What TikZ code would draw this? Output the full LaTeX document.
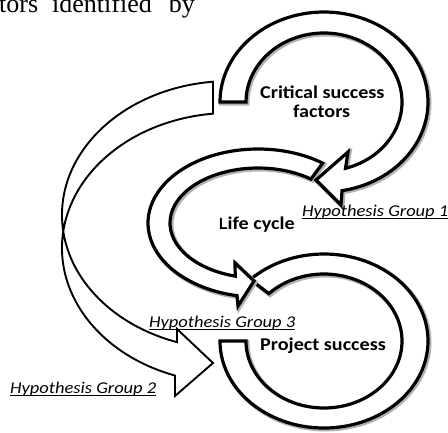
\documentclass[tikz,border=0pt]{standalone}
\usepackage{fontspec}
\setmainfont{Carlito}
\newfontfamily\labelfont[FakeStretch=1.12]{Carlito}
\newfontfamily\capLfont[FakeStretch=0.86]{Liberation Sans}
\newfontfamily\serifface{Liberation Serif}
\usetikzlibrary{calc}

% underline placed just below the baseline, crossing descenders
\newcommand\wordul[1]{\setbox0\hbox{#1}\rlap{\rule[-2.6pt]{\wd0}{0.9pt}}#1}

\tikzset{
  band/.style={draw=black, line width=3.2pt, fill=white, line join=miter,
    preaction={draw=black!30, line width=4.4pt,
               transform canvas={shift={(1.3pt,-1.3pt)}}}},
  ribbon/.style={draw=black, line width=1.9pt, fill=white},
  boldlabel/.style={font=\labelfont\fontsize{18}{21}\selectfont\bfseries, inner sep=0pt, anchor=base west},
  hyplabel/.style={font=\labelfont\fontsize{16.5}{19}\selectfont\itshape, inner sep=0pt, anchor=base west},
}

\begin{document}
\begin{tikzpicture}[x=1pt,y=1pt]
\useasboundingbox (0,0) rectangle (448,-432);
\clip (0,0) rectangle (448,-432);

% centres of the elliptical bands
\coordinate (c1) at (324,-102);
\coordinate (c2) at (258,-223);
\coordinate (c3) at (324,-341);
\coordinate (cA) at (230,-215);
\coordinate (cB) at (230,-248);

% line of running text above the figure
\node[font=\serifface\fontsize{26}{30}\selectfont, inner sep=0pt, anchor=base west]
  (runtext) at (-1,-12.7) {tors\hspace{14pt}identified\hspace{17pt}by};

% large curved arrow on the left (Hypothesis Group 2)
\path[ribbon] ($(cA)+(95.8:168 and 134)$)
  arc[start angle=95.8, end angle=251.6, x radius=168, y radius=134]
  -- (177,-329) -- (213,-363) -- (175,-396)
  -- ($(cB)+(250.9:168 and 135)$)
  arc[start angle=250.9, end angle=95.8, x radius=168, y radius=135]
  -- cycle;

% Project success band (no head)
\path[band] ($(c3)+(180:104 and 87)$)
  arc[start angle=180, end angle=495, x radius=104, y radius=87]
  -- ($(c3)+(135:78 and 67)$)
  arc[start angle=135, end angle=-180, x radius=78, y radius=67]
  -- cycle;

% Life cycle band with head at the bottom
\path[band] ($(c2)+(54:110 and 74)$)
  arc[start angle=54, end angle=259, x radius=110, y radius=74]
  -- (238,-306) -- (254,-281) -- (235,-263)
  -- ($(c2)+(255:88 and 55)$)
  arc[start angle=255, end angle=53, x radius=88, y radius=55]
  -- cycle;

% Critical success factors band with head at the bottom
\path[band] ($(c1)+(180:104 and 90)$)
  arc[start angle=180, end angle=-80, x radius=104, y radius=90]
  -- (341,-205) -- (316,-180) -- (348,-152)
  -- ($(c1)+(-74:78 and 69)$)
  arc[start angle=-74, end angle=180, x radius=78, y radius=69]
  -- cycle;

% labels
\node[boldlabel] (csf) at (260,-98) {Critical success};
\node[boldlabel] (csf2) at (293,-117) {factors};
\node[boldlabel] (life) at (219,-229)
  {{\capLfont\fontsize{16.2}{21}\selectfont\bfseries L}ife cycle};
\node[boldlabel] (proj) at (260,-350) {Project success};

\node[hyplabel] (h1) at (302,-216) {\wordul{Hypothesis Group 1}};
\node[hyplabel] (h3) at (149,-327) {\wordul{Hypothesis Group 3}};
\node[hyplabel] (h2) at (10,-393) {\wordul{Hypothesis Group 2}};
\end{tikzpicture}
\end{document}
